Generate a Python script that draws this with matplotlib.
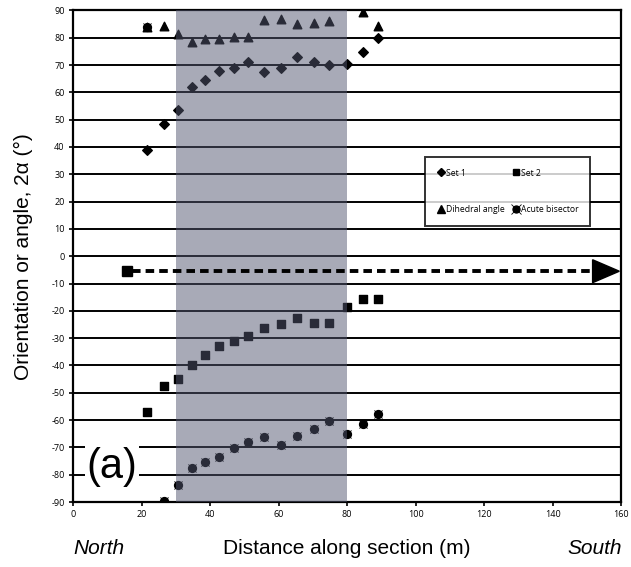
import matplotlib
matplotlib.use("Agg")
import matplotlib.pyplot as plt
import matplotlib.patches as patches
from matplotlib.lines import Line2D

# distance along section (m) for each station
dist = [21.6, 26.6, 30.6, 34.6, 38.4, 42.7, 47.1, 51.2, 55.8, 60.7, 65.3, 70.4, 74.8, 79.9, 84.6, 89.1]

set1 = [39.0, 48.3, 53.5, 61.8, 64.4, 67.9, 69.0, 71.0, 67.3, 68.9, 73.0, 71.0, 69.9, 70.5, 74.9, 80.0]
set2 = [-57.2, -47.5, -45.1, -40.0, -36.2, -32.7, -31.1, -29.2, -26.3, -24.9, -22.5, -24.3, -24.3, -18.5, -15.5, -15.5]

dihedral_x = [21.6, 26.6, 30.6, 34.6, 38.4, 42.7, 47.1, 51.2, 55.8, 60.7, 65.3, 70.4, 74.8, 84.6, 89.1]
dihedral = [84.0, 84.4, 81.2, 78.5, 79.6, 79.6, 80.1, 80.1, 86.6, 86.7, 85.0, 85.5, 86.1, 89.3, 84.4]

bisector_x = [21.6, 26.6, 30.6, 34.6, 38.4, 42.7, 47.1, 51.2, 55.8, 60.7, 65.3, 70.4, 74.8, 79.9, 84.6, 89.1]
bisector = [84.0, -89.6, -83.8, -77.4, -75.2, -73.5, -70.3, -68.1, -66.2, -69.2, -65.9, -63.3, -60.4, -65.2, -61.4, -57.8]

# shaded zone and transport direction arrow
zone = (30, 80)
arrow_start = (15.8, -5.5)
arrow_end = 159.5

plt.rcParams['font.family'] = ['Liberation Sans', 'DejaVu Sans']
plt.rcParams['axes.unicode_minus'] = False

fig = plt.figure(figsize=(6.31, 5.67), dpi=100)
ax = fig.add_axes([0.1157, 0.1146, 0.8685, 0.8671])

for y in range(-90, 91, 10):
    ax.axhline(y, color='black', linewidth=1.4, zorder=1)

ax.scatter(dist, set1, marker='D', s=24, color='black', zorder=3)
ax.scatter(dist, set2, marker='s', s=32, color='black', zorder=3)
ax.scatter(dihedral_x, dihedral, marker='^', s=38, color='black', zorder=3)
ax.scatter(bisector_x, bisector, marker='o', s=32, color='black', zorder=3)
ax.scatter(bisector_x, bisector, marker='x', s=34, color='black', linewidths=0.6, zorder=3)

# transparent gray band over the central zone
band = patches.Rectangle((zone[0], -90), zone[1] - zone[0], 180, facecolor='#535770',
                         alpha=0.5, edgecolor='none', zorder=4)
ax.add_patch(band)

# dashed arrow
ax.plot([arrow_start[0]], [arrow_start[1]], marker='s', ms=7, color='black', zorder=5)
ax.plot([arrow_start[0] + 1.5, arrow_end - 7], [arrow_start[1], arrow_start[1]],
        color='black', linewidth=2.8, dashes=(2.2, 1.3), zorder=5)
ax.add_patch(patches.Polygon([[arrow_end - 7.8, arrow_start[1] + 4.2],
                              [arrow_end - 7.8, arrow_start[1] - 4.2],
                              [arrow_end, arrow_start[1]]],
                             closed=True, color='black', zorder=5))

ax.set_xlim(0, 160)
ax.set_ylim(-90, 90)
ax.set_xticks(range(0, 161, 20))
ax.set_yticks(range(-90, 91, 10))
ax.tick_params(labelsize=6.5, length=3, width=1.2, pad=3)
for lbl in ax.get_xticklabels() + ax.get_yticklabels():
    lbl.set_family('Open Sans')
for s in ax.spines.values():
    s.set_linewidth(1.6)

ax.set_ylabel('Orientation or angle, 2\u03b1 (\u00b0)', fontsize=15, labelpad=13)
ax.set_xlabel('Distance along section (m)', fontsize=15, labelpad=14)
fig.text(0.116, 0.0335, 'North', fontsize=15, style='italic', ha='left', va='center')
fig.text(0.986, 0.0335, 'South', fontsize=15, style='italic', ha='right', va='center')

ax.text(11.4, -77.3, '(a)', fontsize=30, ha='center', va='center', zorder=6,
        bbox=dict(facecolor='white', edgecolor='none', pad=1))

# legend laid out row by row: Set 1 / Set 2, Dihedral angle / Acute bisector
h_set1 = Line2D([], [], ls='none', marker='D', ms=4, color='black')
h_set2 = Line2D([], [], ls='none', marker='s', ms=5, color='black')
h_dih = Line2D([], [], ls='none', marker='^', ms=5.5, color='black')
h_bis = (Line2D([], [], ls='none', marker='o', ms=5, color='black'),
         Line2D([], [], ls='none', marker='x', ms=7, mew=0.6, color='black'))
leg = ax.legend([h_set1, h_dih, h_set2, h_bis],
                ['Set 1', 'Dihedral angle', 'Set 2', 'Acute bisector'],
                loc='upper left', bbox_to_anchor=(0.642, 0.702),
                ncol=2, frameon=True, fancybox=False, handletextpad=0.05,
                labelspacing=3.2, borderpad=1.35, handlelength=1.0, borderaxespad=0,
                columnspacing=0.9, prop={'family': 'Open Sans', 'size': 6.2})
leg.get_frame().set_edgecolor('black')
leg.get_frame().set_linewidth(1.4)
leg.set_zorder(7)

fig.savefig('out.png', dpi=100)
